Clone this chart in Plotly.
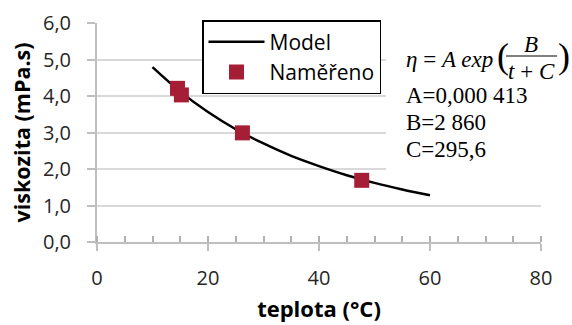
import plotly.graph_objects as go

# model curve eta = A exp(B/(t+C)), values read at 5 degC steps
model_t = [10, 15, 20, 25, 30, 35, 40, 45, 50, 55, 60]
model_eta = [4.79, 4.12, 3.56, 3.09, 2.70, 2.36, 2.08, 1.83, 1.62, 1.44, 1.28]

# measured points
meas_t = [14.5, 15.2, 26.2, 47.7]
meas_eta = [4.21, 4.03, 2.99, 1.69]

y_ticks = [0, 1, 2, 3, 4, 5, 6]
y_labels = ['0,0', '1,0', '2,0', '3,0', '4,0', '5,0', '6,0']

W, H = 572, 325
L, R, T, B = 97, 31, 23, 83
pw, ph = W - L - R, H - T - B


def px(x):
    return (x - L) / pw


def py(y):
    return (H - B - y) / ph


sans = 'Open Sans'
serif = 'Liberation Serif'
grey = '#BFBFBF'
red = '#A51E36'

fig = go.Figure()
fig.add_trace(go.Scatter(
    x=model_t, y=model_eta, mode='lines', name='Model',
    line=dict(color='black', width=2.5, shape='spline'),
    legendgroup='a'
))
fig.add_trace(go.Scatter(
    x=meas_t, y=meas_eta, mode='markers', name='Naměřeno',
    marker=dict(color=red, symbol='square', size=15),
    legendgroup='b'
))

fig.update_layout(
    width=W, height=H,
    margin=dict(l=L, r=R, t=T, b=B),
    plot_bgcolor='white', paper_bgcolor='white',
    font=dict(family=sans, size=20, color='#262626'),
    legend=dict(
        x=px(202), y=py(20), xanchor='left', yanchor='top',
        bgcolor='white', bordercolor='black', borderwidth=1.5,
        font=dict(family=sans, size=21, color='black'),
        traceorder='grouped', tracegroupgap=0, itemwidth=56,
    ),
    xaxis=dict(
        range=[0, 80], tickmode='linear', tick0=0, dtick=20, ticks='outside', ticklen=7,
        tickcolor=grey, tickwidth=2, showline=True, linecolor=grey, linewidth=2,
        showgrid=False, zeroline=False, ticklabelstandoff=10, automargin=False,
        minor=dict(tickmode='linear', tick0=0, dtick=5, ticks='inside', ticklen=6,
                   tickcolor='#B0B0B0', tickwidth=1.5, showgrid=False),
        title=dict(text='<b>teplota (°C)</b>', font=dict(family=sans, size=22, color='black'), standoff=12),
    ),
    yaxis=dict(
        range=[0, 6], tickvals=y_ticks, ticktext=y_labels, ticks='outside', ticklen=8,
        tickcolor=grey, tickwidth=2, showline=True, linecolor=grey, linewidth=2,
        showgrid=True, gridcolor='#D9D9D9', gridwidth=1.5, zeroline=False,
        ticklabelstandoff=12, automargin=False,
        title=dict(text='<b>viskozita (mPa.s)</b>', font=dict(family=sans, size=21.5, color='black'), standoff=6),
    ),
)

# white box behind the equation text
fig.add_shape(type='rect', xref='paper', yref='paper', layer='above',
              x0=px(386), x1=px(572), y0=py(180), y1=py(0),
              fillcolor='white', line=dict(width=0))
# fraction bar
fig.add_shape(type='line', xref='paper', yref='paper', layer='above',
              x0=px(506), x1=px(557), y0=py(56), y1=py(56),
              line=dict(color='black', width=1.2))


def note(text, x, y, size=23, xanchor='left'):
    fig.add_annotation(text=text, x=px(x), y=py(y), xref='paper', yref='paper',
                       xanchor=xanchor, yanchor='middle', showarrow=False,
                       font=dict(family=serif, size=size, color='black'))


note('<i>η</i> = <i>A exp</i>', 404, 59)
note('(', 495, 56, size=36)
note('<i>B</i>', 531, 44, xanchor='center')
note('<i>t</i> + <i>C</i>', 531, 71, xanchor='center')
note(')', 556, 56, size=36)
note('A=0,000 413', 404, 95)
note('B=2 860', 404, 122)
note('C=295,6', 404, 149)

fig.write_html('out.html', config={'displayModeBar': False},
               post_script="document.body.style.margin='0px';")
